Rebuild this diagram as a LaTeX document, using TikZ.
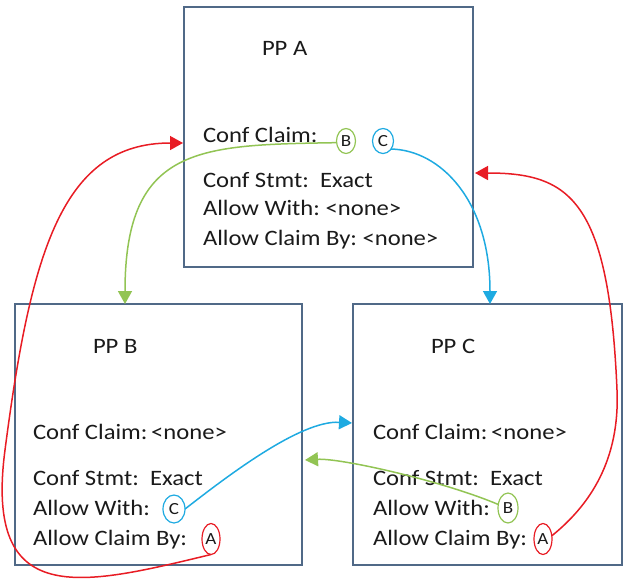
\documentclass[tikz,border=0pt]{standalone}
\usepackage{fontspec}
\setmainfont{Carlito}[FakeStretch=1.12]
\usetikzlibrary{shapes.geometric,arrows.meta}
\definecolor{boxedge}{HTML}{506987}
\definecolor{txt}{HTML}{1A1A1A}
\definecolor{lnred}{HTML}{E81C24}
\definecolor{lngreen}{HTML}{92C454}
\definecolor{lnblue}{HTML}{1EAAE1}
\frenchspacing
\begin{document}
\begin{tikzpicture}[x=1pt,y=-1pt,
  ppbox/.style={draw=boxedge, line width=1.5pt, anchor=north west, inner sep=0pt, outer sep=0pt},
  lbl/.style={anchor=base west, inner sep=0pt, outer sep=0pt, text=txt, font=\fontsize{22}{24}\selectfont},
  tag/.style={ellipse, draw, line width=1.2pt, inner sep=0pt, outer sep=0pt, text=txt, font=\fontsize{17}{17}\selectfont},
  link/.style={line width=1.5pt, -{Triangle[length=13pt,width=14pt]}}
]
\useasboundingbox (0,0) rectangle (626,582);

% the three PP boxes
\node[ppbox, minimum width=289pt, minimum height=260pt] (boxA) at (184,7) {};
\node[ppbox, minimum width=287pt, minimum height=261pt] (boxB) at (15,304) {};
\node[ppbox, minimum width=269pt, minimum height=261pt] (boxC) at (353,304) {};

% PP A
\node[lbl] (tA)  at (262,55)  {PP A};
\node[lbl] (a1)  at (203,142) {Conf Claim:};
\node[lbl] (a2)  at (203,187) {Conf Stmt:\ \ Exact};
\node[lbl] (a3)  at (203,215) {Allow With: <none>};
\node[lbl] (a4)  at (203,245) {Allow Claim By: <none>};
\node[tag, draw=lngreen, minimum width=19pt, minimum height=25pt] (tagAB) at (346,141) {B};
\node[tag, draw=lnblue,  minimum width=21pt, minimum height=25pt] (tagAC) at (383,141) {C};

% PP B
\node[lbl] (tB)  at (93,353)  {PP B};
\node[lbl] (b1)  at (33,439)  {Conf Claim:\,<none>};
\node[lbl] (b2)  at (33,485)  {Conf Stmt:\ \ Exact};
\node[lbl] (b3)  at (33,515)  {Allow With:};
\node[lbl] (b4)  at (33,545)  {Allow Claim By:};
\node[tag, draw=lnblue, minimum width=22pt, minimum height=28pt] (tagBC) at (174,509) {C};
\node[tag, draw=lnred,  minimum width=18pt, minimum height=31pt] (tagBA) at (211,539) {A};

% PP C
\node[lbl] (tC)  at (431,353) {PP C};
\node[lbl] (c1)  at (373,439) {Conf Claim:\,<none>};
\node[lbl] (c2)  at (373,485) {Conf Stmt:\ \ Exact};
\node[lbl] (c3)  at (373,515) {Allow With:};
\node[lbl] (c4)  at (373,545) {Allow Claim By:};
\node[tag, draw=lngreen, minimum width=20pt, minimum height=30pt] (tagCB) at (508,508) {B};
\node[tag, draw=lnred,   minimum width=18pt, minimum height=31pt] (tagCA) at (543,539) {A};

% arrow targets on the box edges
\coordinate (inBtop) at (125,304);
\coordinate (inCtop) at (490,304);
\coordinate (inAleft) at (183,143);
\coordinate (inAright) at (475,173);
\coordinate (inCleft) at (352,423);
\coordinate (inBright) at (305,460);

% connectors
\draw[link, lngreen] (tagAB.190) .. controls (200,145) and (125,145) .. (inBtop);
\draw[link, lnblue]  (tagAC.-45) .. controls (440,150) and (490,200) .. (inCtop);
\draw[link, lnred]   (tagBA.south) .. controls (81,586) and (-16,610) .. (5,450)
                     .. controls (31,250) and (63,143) .. (inAleft);
\draw[link, lnred]   (tagCA.20) .. controls (590,505) and (620,460) .. (617,390)
                     .. controls (609,200) and (570,173) .. (inAright);
\draw[link, lnblue]  (tagBC.east) .. controls (225,478) and (300,420) .. (inCleft);
\draw[link, lngreen] (tagCB.160) .. controls (440,480) and (340,458) .. (inBright);
\end{tikzpicture}
\end{document}
